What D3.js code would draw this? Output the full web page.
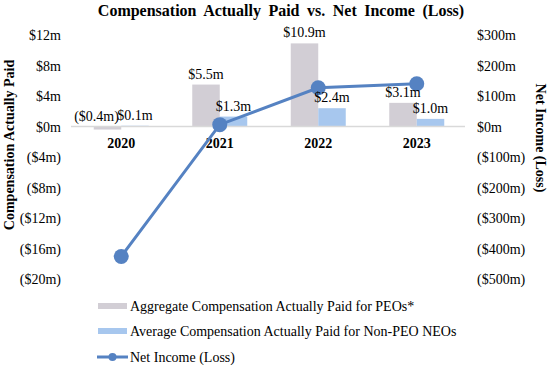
<!DOCTYPE html>
<html><head><meta charset="utf-8">
<script src="https://cdn.jsdelivr.net/npm/d3@7"></script>
<style>body{margin:0;background:#fff}svg{display:block}text{font-family:"Liberation Serif","Times New Roman",serif;fill:#000}</style>
</head><body>
<svg id="c" width="551" height="365"></svg>
<script>
const years = ["2020","2021","2022","2023"];
const peoComp = [-0.4, 5.5, 10.9, 3.1];
const neoComp = [0.1, 1.3, 2.4, 1.0];
const netIncome = [-426, 6, 127, 140];
const peoLabels = ["($0.4m)","$5.5m","$10.9m","$3.1m"];
const neoLabels = ["$0.1m","$1.3m","$2.4m","$1.0m"];
const leftTicks = [12,8,4,0,-4,-8,-12,-16,-20];
const rightTicks = [300,200,100,0,-100,-200,-300,-400,-500];
const seriesNames = ["Aggregate Compensation Actually Paid for PEOs*","Average Compensation Actually Paid for Non-PEO NEOs","Net Income (Loss)"];

const colors = {peo:"#d2ced5", neo:"#a7c7ee", line:"#5582c2"};
const svg = d3.select("#c");
const x = d3.scaleBand().domain(years).range([72,466]);
const yL = d3.scaleLinear().domain([-20,12]).range([279,35]);
const yR = d3.scaleLinear().domain([-500,300]).range([279,35]);
const bw = 27.5;
const sub = d3.scaleBand().domain(["peo","neo"]).range([x.bandwidth()/2-bw, x.bandwidth()/2+bw]);

const fmtL = v => v<0 ? "($"+(-v)+"m)" : "$"+v+"m";

// title
svg.append("text").attr("x",281).attr("y",16).attr("text-anchor","middle")
  .attr("font-size",16).attr("font-weight","bold").attr("word-spacing","3.5px")
  .text("Compensation Actually Paid vs. Net Income (Loss)");

// axis tick labels
svg.append("g").selectAll("text").data(leftTicks).join("text")
  .attr("x",61).attr("y",d=>yL(d)+5).attr("text-anchor","end").attr("font-size",14)
  .text(fmtL);
svg.append("g").selectAll("text").data(rightTicks).join("text")
  .attr("x",477).attr("y",d=>yR(d)+5).attr("text-anchor","start").attr("font-size",14)
  .text(fmtL);

// axis titles
svg.append("text").attr("transform","translate(14,145) rotate(-90)").attr("text-anchor","middle")
  .attr("font-size",14).attr("font-weight","bold").text("Compensation Actually Paid");
svg.append("text").attr("transform","translate(536,138) rotate(90)").attr("text-anchor","middle")
  .attr("font-size",14).attr("font-weight","bold").text("Net Income (Loss)");

// bars
const bars = svg.append("g");
years.forEach((yr,i)=>{
  [["peo",peoComp[i]],["neo",neoComp[i]]].forEach(([k,v])=>{
    const x0 = x(yr)+sub(k);
    bars.append("rect").attr("x",x0).attr("width",sub.bandwidth())
      .attr("y",yL(Math.max(v,0))).attr("height",Math.abs(yL(v)-yL(0)))
      .attr("fill",colors[k]);
  });
});
// zero line
svg.append("line").attr("x1",71).attr("x2",465).attr("y1",yL(0)).attr("y2",yL(0))
  .attr("stroke","#d9d9d9").attr("stroke-width",1.5);

// category labels
svg.append("g").selectAll("text").data(years).join("text")
  .attr("x",d=>x(d)+x.bandwidth()/2).attr("y",yL(0)+21).attr("text-anchor","middle")
  .attr("font-size",14).attr("font-weight","bold").text(d=>d);

// line
const pts = years.map((yr,i)=>[x(yr)+x.bandwidth()/2, yR(netIncome[i])]);
svg.append("path").attr("d",d3.line()(pts)).attr("fill","none")
  .attr("stroke",colors.line).attr("stroke-width",3);
svg.append("g").selectAll("circle").data(pts).join("circle")
  .attr("cx",d=>d[0]).attr("cy",d=>d[1]).attr("r",7.5).attr("fill",colors.line);

// data labels
const lab = svg.append("g");
years.forEach((yr,i)=>{
  [["peo",peoComp[i],peoLabels[i]],["neo",neoComp[i],neoLabels[i]]].forEach(([k,v,t])=>{
    const cx = x(yr)+sub(k)+sub.bandwidth()/2;
    lab.append("text").attr("x",cx - (v<0?11:0)).attr("y",yL(Math.max(v,0))-6)
      .attr("text-anchor","middle").attr("font-size",14).text(t);
  });
});

// legend
const lg = svg.append("g");
const rows = [306,331,357];
lg.append("rect").attr("x",98).attr("y",rows[0]-3).attr("width",29).attr("height",6).attr("fill",colors.peo);
lg.append("rect").attr("x",98).attr("y",rows[1]-3).attr("width",29).attr("height",6).attr("fill",colors.neo);
lg.append("line").attr("x1",97).attr("x2",128).attr("y1",rows[2]).attr("y2",rows[2]).attr("stroke",colors.line).attr("stroke-width",3);
lg.append("circle").attr("cx",112.5).attr("cy",rows[2]).attr("r",4).attr("fill",colors.line);
lg.selectAll("text.l").data(seriesNames).join("text").attr("class","l")
  .attr("x",130).attr("y",(d,i)=>rows[i]+5).attr("font-size",14).text(d=>d);
</script>
</body></html>
